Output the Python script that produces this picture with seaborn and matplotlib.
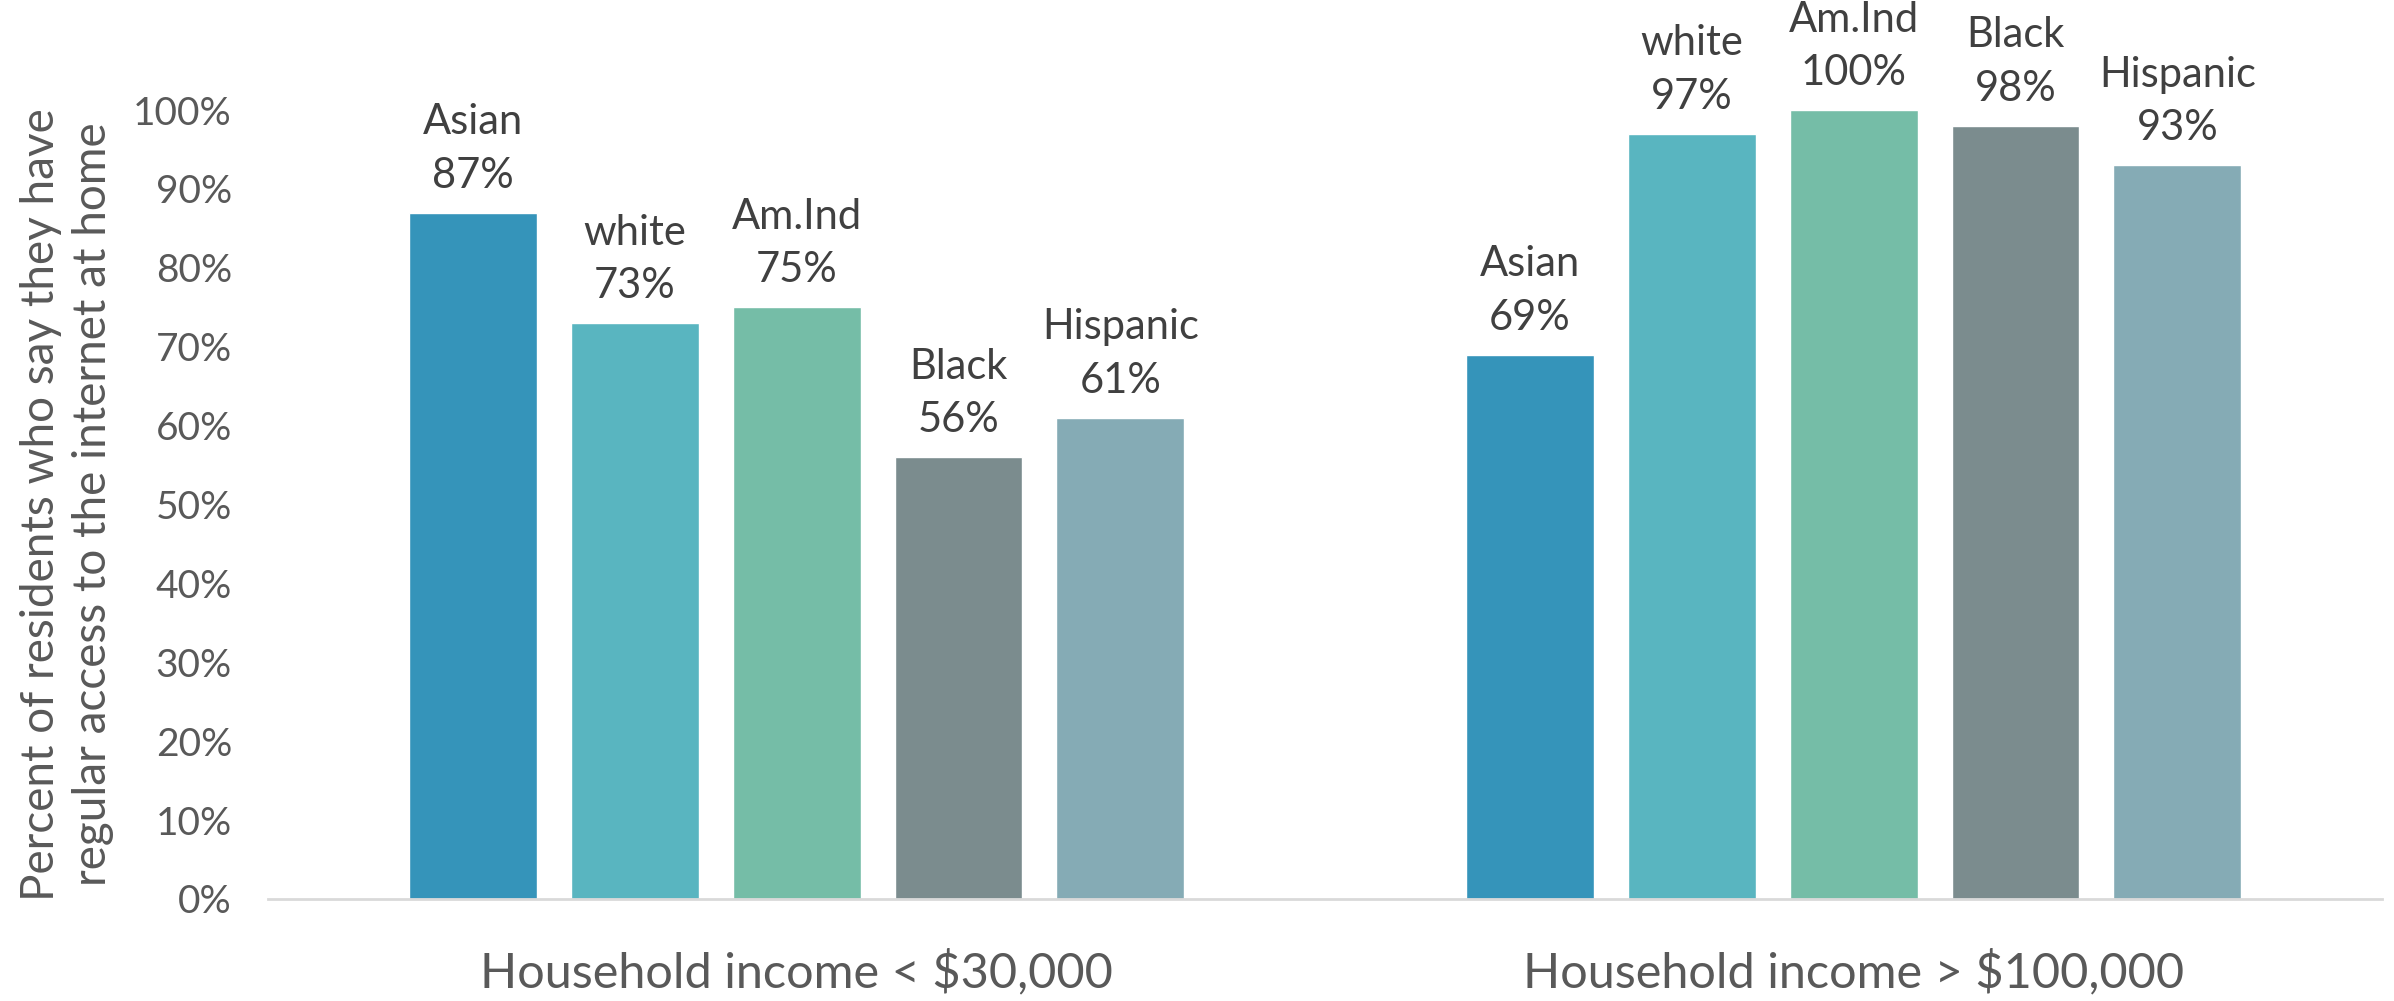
import matplotlib
matplotlib.use("Agg")
import matplotlib.pyplot as plt
import seaborn as sns
import pandas as pd

groups = ["Household income < $30,000", "Household income > $100,000"]
races = ["Asian", "white", "Am.Ind", "Black", "Hispanic"]
low_income = [87, 73, 75, 56, 61]
high_income = [69, 97, 100, 98, 93]
race_colors = ["#3594BA", "#59B5C0", "#75BDA7", "#7B8C8E", "#85ABB5"]
y_ticks = [0, 10, 20, 30, 40, 50, 60, 70, 80, 90, 100]
y_label = "Percent of residents who say they have\nregular access to the internet at home"

rows = []
for g, vals in zip(groups, [low_income, high_income]):
    for r, v in zip(races, vals):
        rows.append({"group": g, "race": r, "share": v})
df = pd.DataFrame(rows)

sns.set_style("white")
plt.rcParams['font.family'] = ['Lato', 'DejaVu Sans']

fig = plt.figure(figsize=(23.94, 10.01), dpi=100)
ax = fig.add_axes([0.112, 0.102, 0.883, 0.788])

sns.barplot(data=df, x="group", y="share", hue="race", hue_order=races,
            palette=race_colors, saturation=1, width=0.766, gap=0.21,
            legend=False, ax=ax)

# name + value above every bar
for race, cont in zip(races, ax.containers):
    labels = [f"{race}\n{int(round(b.get_height()))}%" for b in cont]
    txts = ax.bar_label(cont, labels=labels, padding=13, fontsize=30,
                        color="#404040", clip_on=False)
    for t in txts:
        t.set_linespacing(1.5)

ax.set_xlim(-0.5, 1.5)
ax.set_ylim(0, 100)
ax.set_yticks(y_ticks)
ax.set_yticklabels([f"{t}%" for t in y_ticks])
ax.tick_params(axis="y", labelsize=28, labelcolor="#595959", length=0, pad=26)
ax.tick_params(axis="x", labelsize=35, labelcolor="#595959", length=0, pad=36)
ax.set_xlabel("")
ax.set_ylabel(y_label, fontsize=33, color="#595959", labelpad=14, linespacing=1.3)

for s in ["top", "right", "left"]:
    ax.spines[s].set_visible(False)
ax.spines["bottom"].set_color("#D9D9D9")
ax.spines["bottom"].set_linewidth(2)

fig.savefig("out.png", dpi=100)
